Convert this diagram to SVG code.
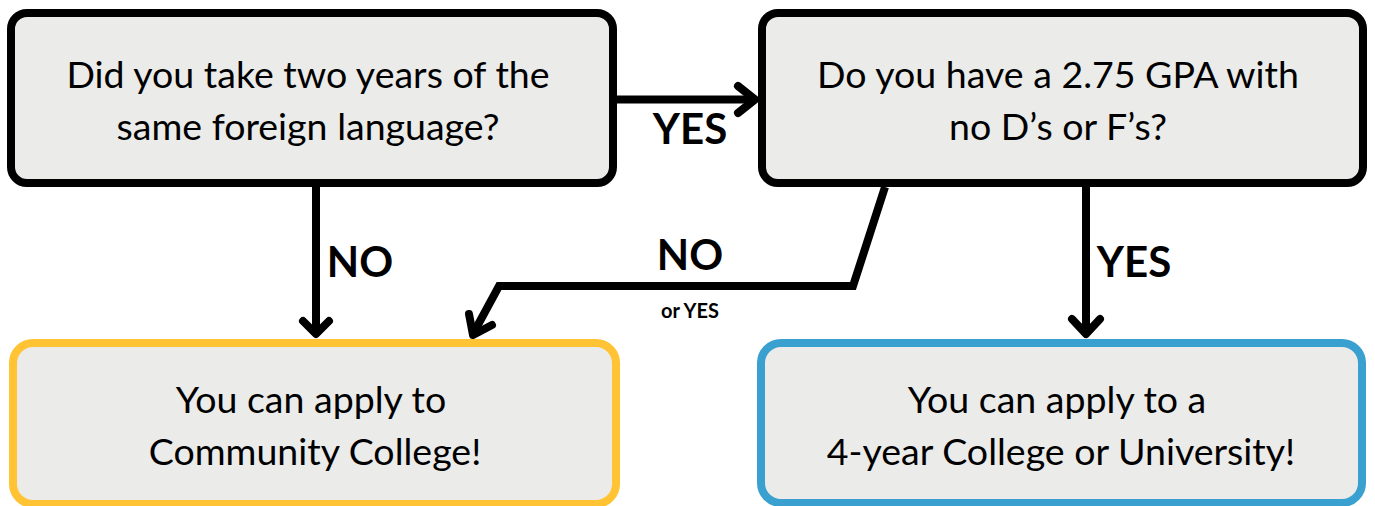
<svg xmlns="http://www.w3.org/2000/svg" width="1375" height="506" viewBox="0 0 1375 506">
<defs>
<style>
.box{fill:#ebebea;stroke-width:8}
.q{stroke:#000}
.cc{stroke:#ffc333}
.uni{stroke:#3aa0cf}
.t{font-family:Lato,"Open Sans",sans-serif;font-size:37.5px;fill:#000;text-anchor:middle}
.lbl{font-family:Lato,"Open Sans",sans-serif;font-weight:bold;font-size:42px;fill:#000;text-anchor:middle}
.small{font-family:Lato,"Open Sans",sans-serif;font-weight:bold;font-size:20px;fill:#000;text-anchor:middle}
.c{fill:none;stroke:#000;stroke-width:8;stroke-linejoin:miter}
.ah{fill:none;stroke:#000;stroke-width:8;stroke-linecap:round;stroke-linejoin:round}
</style>
</defs>
<rect width="1375" height="506" fill="#ffffff"/>
<g id="connectors">
<path class="c" d="M617 99.5H752"/>
<path class="ah" d="M738 86L755 99.5L738 113"/>
<path class="c" d="M316 187V333"/>
<path class="ah" d="M303 321L316 334L329 321"/>
<path class="c" d="M885 187L853 286H499L473 334"/>
<path class="ah" d="M469 314L473 335L492 325"/>
<path class="c" d="M1086 187V333"/>
<path class="ah" d="M1072 319L1086 334L1100 319"/>
<text class="lbl" x="690" y="144">YES</text>
<text class="lbl" x="360" y="277">NO</text>
<text class="lbl" x="690" y="270">NO</text>
<text class="small" x="690" y="318">or YES</text>
<text class="lbl" x="1134" y="277">YES</text>
</g>
<g id="q1">
<rect class="box q" x="11" y="13" width="602" height="170" rx="16"/>
<text class="t" x="308" y="88">Did you take two years of the</text>
<text class="t" x="308" y="140">same foreign language?</text>
</g>
<g id="q2">
<rect class="box q" x="762" y="13" width="601" height="170" rx="16"/>
<text class="t" x="1058" y="88">Do you have a 2.75 GPA with</text>
<text class="t" x="1058" y="140">no D’s or F’s?</text>
</g>
<g id="community">
<rect class="box cc" x="13" y="343" width="603" height="161" rx="20"/>
<text class="t" x="311" y="413">You can apply to</text>
<text class="t" x="315" y="465">Community College!</text>
</g>
<g id="university">
<rect class="box uni" x="761" y="343" width="601" height="160" rx="20"/>
<text class="t" x="1057" y="413">You can apply to a</text>
<text class="t" x="1061" y="465">4-year College or University!</text>
</g>
</svg>
